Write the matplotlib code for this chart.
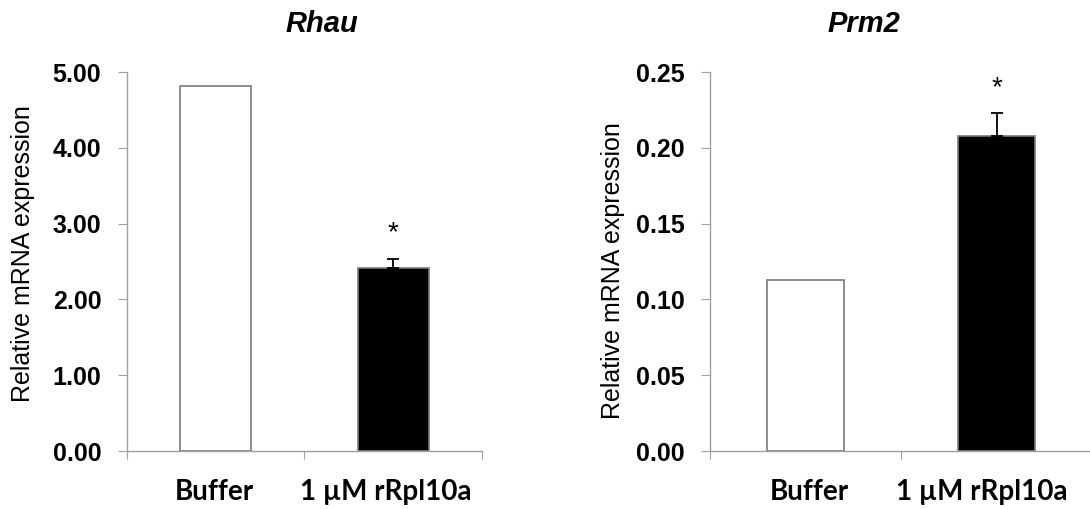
import matplotlib.pyplot as plt
import numpy as np

groups = ["Buffer", "1 \u00b5M rRpl10a"]
rhau_vals = [4.81, 2.41]
rhau_err = [0.0, 0.12]
prm2_vals = [0.113, 0.208]
prm2_err = [0.0, 0.015]
rhau_ticks = [0, 1, 2, 3, 4, 5]
prm2_ticks = [0, 0.05, 0.10, 0.15, 0.20, 0.25]

fig = plt.figure(figsize=(10.9, 5.09), dpi=100)
ax1 = fig.add_axes([0.1165, 0.1139, 0.3257, 0.7446])
ax2 = fig.add_axes([0.6514, 0.1139, 0.3505, 0.7446])

spine_col = "#a0a0a0"

def panel(ax, vals, err, ticks, title, star_y, title_x, lab_off, ylab_xy):
    x = np.arange(len(vals)) + 0.5
    ax.bar(x, vals, width=0.4, color=["white", "black"], edgecolor="#7a7a7a", linewidth=1.2, zorder=2)
    ax.errorbar(x[1], vals[1], yerr=[[0], [err[1]]], fmt="none", ecolor="black",
                elinewidth=1.3, capsize=4, capthick=1.3, zorder=3)
    ax.text(x[1], star_y, "*", ha="center", va="center", fontsize=20, family="Liberation Sans")
    ax.set_xlim(0, 2)
    ax.set_ylim(ticks[0], ticks[-1])
    ax.set_yticks(ticks)
    ax.set_yticklabels(["%.2f" % t for t in ticks], fontsize=18, fontweight="bold", family="Liberation Sans")
    ax.set_xticks([0, 1, 2])
    ax.set_xticklabels([])
    ax.tick_params(axis="y", direction="out", length=6.5, color=spine_col, pad=12)
    ax.tick_params(axis="x", direction="out", length=6, color=spine_col)
    for s in ["top", "right"]:
        ax.spines[s].set_visible(False)
    for s in ["left", "bottom"]:
        ax.spines[s].set_color(spine_col)
        ax.spines[s].set_linewidth(1.0)
    ax.set_ylabel("Relative mRNA expression", fontsize=18, family="Liberation Sans")
    ax.yaxis.set_label_coords(*ylab_xy)
    for xi, g, off in zip(x, groups, lab_off):
        ax.text(xi + off, -0.108, g, transform=ax.get_xaxis_transform(), ha="center", va="center",
                fontsize=20, fontweight="bold", family="Lato")
    fig.text(title_x, 0.953, title, ha="center", va="center", fontsize=21,
             fontweight="bold", style="italic", family="Liberation Sans")

panel(ax1, rhau_vals, rhau_err, rhau_ticks, "Rhau", 2.88, 0.2954, [-0.01, -0.04], (-0.259, 0.52))
panel(ax2, prm2_vals, prm2_err, prm2_ticks, "Prm2", 0.2395, 0.7927, [0.02, -0.08], (-0.223, 0.475))

fig.savefig("out.png", dpi=100)
